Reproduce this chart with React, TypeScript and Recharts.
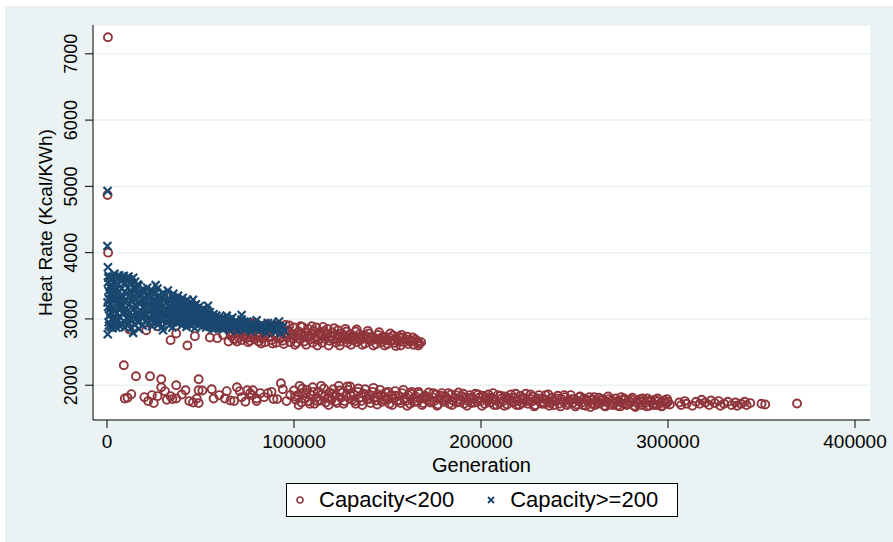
import { ScatterChart, Scatter, XAxis, YAxis, CartesianGrid } from "recharts";

const maroon = "#90353b";
const navy = "#1a476f";
const bg = "#eaf2f3";

// [generation in thousands, heat rate]
const smallCapOutliers: [number, number][] = [
  [0.5, 7250], [0.3, 4870], [0.6, 4000],
  [12, 2840], [21, 2830], [27, 2890], [34, 2680], [37, 2780], [43, 2600], [47, 2740], [55, 2720],
  [59, 2710], [65, 2660], [62, 2760], [68, 2700], [66, 2800],
];

const smallCapUpper: [number, number][] = [
  [66.5, 2740], [67, 2850], [68, 2690], [69, 2790], [70, 2900], [70.5, 2720], [71.5, 2830], [72, 2680],
  [73, 2760], [73.5, 2880], [74.5, 2710], [75, 2800], [76, 2920], [76.5, 2670], [77.5, 2760], [78, 2850],
  [79, 2700], [79.5, 2930], [80, 2790], [81, 2660], [81.5, 2740], [82, 2870], [83, 2700], [83.5, 2810],
  [84.5, 2650], [85, 2760], [86, 2900], [86.5, 2720], [87.5, 2830], [88, 2680], [89, 2780], [89.5, 2880],
  [90.5, 2640], [91, 2740], [92, 2850], [92.5, 2700], [93.5, 2800], [94, 2670], [95, 2760], [95.5, 2910],
  [96.5, 2720], [97, 2830], [98, 2650], [98.5, 2780], [99.5, 2700], [100, 2870], [101, 2740], [101.5, 2640],
  [102.5, 2810], [103, 2700], [104, 2760], [104.5, 2880], [105.5, 2660], [106, 2790], [107, 2720], [107.5, 2850],
  [108.5, 2690], [109, 2770], [110, 2640], [110.5, 2820], [111.5, 2730], [112, 2870], [113, 2680], [113.5, 2790],
  [114.5, 2740], [115, 2640], [116, 2810], [116.5, 2700], [117.5, 2770], [118, 2850], [119, 2670], [119.5, 2740],
  [120.5, 2800], [121, 2690], [122, 2760], [122.5, 2640], [123.5, 2830], [124, 2720], [125, 2660], [125.5, 2780],
  [126.5, 2700], [127, 2740], [128, 2810], [128.5, 2640], [129.5, 2720], [130, 2770], [131, 2680], [132, 2740],
  [133, 2810], [133.5, 2650], [134.5, 2710], [135, 2770], [136, 2690], [137, 2740], [138, 2630], [139, 2710],
  [140, 2780], [141, 2670], [142, 2730], [143, 2690], [144, 2620], [145, 2760], [146, 2700], [147, 2650],
  [148, 2730], [149, 2680], [150, 2620], [151, 2720], [152, 2670], [153, 2750], [154, 2640], [155, 2700],
  [156, 2660], [157, 2600], [158, 2720], [159, 2650], [160, 2690], [161, 2620], [163, 2670], [164, 2610],
  [166, 2660], [167, 2630],
  [67.5, 2780], [71, 2770], [74, 2830], [77, 2720], [80.5, 2730], [84, 2770], [87, 2740], [90, 2790],
  [93, 2730], [96, 2790], [99, 2760], [102, 2760], [105, 2730], [108, 2750], [111, 2700], [114, 2760],
  [117, 2730], [120, 2740], [123, 2700], [126, 2750], [129, 2690], [132, 2680], [135, 2720], [138, 2750],
  [141, 2720], [144, 2700], [147, 2720], [150, 2690], [153, 2680], [156, 2730], [162, 2660], [165, 2690],
  [67, 2930], [69.5, 2660], [72.5, 2940], [75.5, 2650], [78.5, 2940], [82.5, 2630], [85.5, 2920], [88.5, 2630],
  [91.5, 2910], [94.5, 2620], [97.5, 2900], [100.5, 2610], [103.5, 2890], [106.5, 2610], [109.5, 2890], [112.5, 2600],
  [115.5, 2880], [118.5, 2600], [121.5, 2860], [124.5, 2600], [127.5, 2850], [130.5, 2610], [133.5, 2840], [136.5, 2610],
  [139.5, 2820], [142.5, 2600], [145.5, 2800], [148.5, 2600], [151.5, 2780], [154.5, 2590], [157.5, 2760], [160.5, 2730],
  [163.5, 2720], [166.5, 2600], [168, 2650],
];

const smallCapLower: [number, number][] = [
  [9, 2300], [15.5, 2135], [23, 2135], [29, 2090], [49, 2090], [37, 2000], [42, 1925], [9.5, 1800],
  [13, 1865], [11, 1810], [20, 1820], [22, 1760], [25, 1730], [24, 1850], [27, 1835], [29, 1970],
  [31, 1910], [34, 1835], [37, 1800], [48, 1800], [49, 1925], [51, 1920], [49, 1730], [56, 1940],
  [57, 1800], [64, 1910], [63, 1800], [68, 1760], [69.5, 1970], [71, 1910], [75, 1925], [76.5, 1880],
  [78, 1925], [80, 1800], [82, 1880], [77.5, 1850], [80, 1760], [86, 1880], [89, 1790], [91, 1790],
  [93, 2030], [94, 1940], [96, 1760], [32, 1780], [35, 1790], [40, 1860], [44, 1760], [46, 1740],
  [60, 1850], [66, 1770], [72, 1820], [74, 1750], [84, 1820], [88, 1900], [98, 1850],
  [100, 1920], [101, 1780], [102, 1850], [103, 1990], [104, 1740], [105, 1880], [106, 1800], [107, 1930],
  [108, 1760], [109, 1850], [110, 1970], [111, 1720], [112, 1820], [113, 1900], [114, 1770], [115, 1860],
  [116, 1950], [117, 1740], [118, 1810], [119, 1890], [120, 1780], [121, 1940], [122, 1850], [123, 1730],
  [124, 1990], [125, 1810], [126, 1890], [127, 1760], [128, 1840], [129, 1930], [130, 1980], [131, 1780],
  [132, 1860], [133, 1720], [134, 1900], [135, 1810], [136, 1760], [137, 1870], [138, 1940], [139, 1790],
  [140, 1850], [141, 1730], [142, 1900], [143, 1810], [144, 1770], [145, 1860], [146, 1930], [147, 1750],
  [148, 1830], [149, 1890], [150, 1780], [151, 1720], [152, 1850], [153, 1800], [154, 1910], [155, 1760],
  [156, 1840], [157, 1730], [158, 1880], [159, 1800], [160, 1760], [161, 1850], [162, 1720], [163, 1900],
  [164, 1790], [165, 1830], [166, 1750], [167, 1870], [168, 1800], [169, 1730], [170, 1840], [171, 1780],
  [172, 1890], [173, 1740], [174, 1820], [175, 1760], [176, 1860], [177, 1710], [178, 1800], [179, 1880],
  [180, 1750], [181, 1830], [182, 1790], [183, 1720], [184, 1860], [185, 1770], [186, 1810], [187, 1740],
  [188, 1890], [189, 1780], [190, 1830], [191, 1720], [192, 1800], [193, 1760], [194, 1850], [195, 1730],
  [196, 1790], [197, 1870], [198, 1750], [199, 1810],
  [200, 1760], [201, 1840], [202, 1720], [203, 1790], [204, 1860], [205, 1740], [206, 1810], [207, 1700],
  [208, 1770], [209, 1850], [210, 1730], [211, 1800], [212, 1760], [213, 1830], [214, 1710], [215, 1780],
  [216, 1860], [217, 1740], [218, 1810], [219, 1700], [220, 1760], [221, 1840], [222, 1730], [223, 1790],
  [224, 1870], [225, 1720], [226, 1800], [227, 1750], [228, 1830], [229, 1700], [230, 1770], [231, 1850],
  [232, 1740], [233, 1800], [234, 1720], [235, 1780], [236, 1860], [237, 1730], [238, 1810], [239, 1700],
  [240, 1760], [241, 1840], [242, 1720], [243, 1790], [244, 1750], [245, 1820], [246, 1700], [247, 1770],
  [248, 1850], [249, 1730], [250, 1790], [251, 1710], [252, 1760], [253, 1830], [254, 1740], [255, 1800],
  [256, 1690], [257, 1760], [258, 1820], [259, 1720], [260, 1780], [261, 1700], [262, 1750], [263, 1810],
  [264, 1730], [265, 1790], [266, 1690], [267, 1750], [268, 1830], [269, 1710], [270, 1770], [271, 1730],
  [272, 1800], [273, 1690], [274, 1750], [275, 1820], [276, 1720], [277, 1780], [278, 1700], [279, 1760],
  [280, 1740], [281, 1810], [282, 1690], [283, 1750], [284, 1720], [285, 1790], [286, 1700], [287, 1760],
  [288, 1730], [289, 1800], [290, 1690], [291, 1750], [292, 1720], [293, 1780], [294, 1700], [295, 1760],
  [296, 1730], [297, 1690], [298, 1770], [299, 1720], [300, 1750],
  [100.5, 1830], [102.5, 1700], [104.5, 1950], [106.5, 1880], [108.5, 1720], [110.5, 1900], [112.5, 1760], [114.5, 1990],
  [116.5, 1830], [118.5, 1700], [120.5, 1870], [122.5, 1760], [124.5, 1920], [126.5, 1720], [128.5, 1980], [130.5, 1840],
  [132.5, 1760], [134.5, 1950], [136.5, 1700], [138.5, 1860], [140.5, 1790], [142.5, 1960], [144.5, 1710], [146.5, 1840],
  [148.5, 1780], [150.5, 1900], [152.5, 1700], [154.5, 1840], [156.5, 1770], [158.5, 1930], [160.5, 1690], [162.5, 1870],
  [164.5, 1750], [166.5, 1900], [168.5, 1700], [170.5, 1810], [172.5, 1760], [174.5, 1880], [176.5, 1690], [178.5, 1840],
  [180.5, 1780], [182.5, 1880], [184.5, 1700], [186.5, 1850], [188.5, 1750], [190.5, 1870], [192.5, 1690], [194.5, 1810],
  [196.5, 1740], [198.5, 1860], [200.5, 1690], [202.5, 1820], [204.5, 1780], [206.5, 1880], [208.5, 1700], [210.5, 1840],
  [212.5, 1690], [214.5, 1810], [216.5, 1750], [218.5, 1870], [220.5, 1700], [222.5, 1810], [224.5, 1760], [226.5, 1860],
  [228.5, 1680], [230.5, 1800], [232.5, 1720], [234.5, 1850], [236.5, 1690], [238.5, 1760], [240.5, 1800], [242.5, 1680],
  [244.5, 1850], [246.5, 1730], [248.5, 1790], [250.5, 1680], [252.5, 1820], [254.5, 1700], [256.5, 1780], [258.5, 1670],
  [260.5, 1820], [262.5, 1720], [264.5, 1770], [266.5, 1680], [268.5, 1790], [270.5, 1700], [272.5, 1750], [274.5, 1680],
  [276.5, 1800], [278.5, 1720], [280.5, 1780], [282.5, 1670], [284.5, 1760], [286.5, 1800], [288.5, 1680], [290.5, 1770],
  [292.5, 1700], [294.5, 1800], [296.5, 1680], [298.5, 1740], [299.5, 1790], [301, 1710],
  [306, 1740], [307, 1700], [309, 1760], [310, 1720], [313, 1690], [315, 1750], [317, 1720], [318, 1780],
  [320, 1740], [322, 1700], [323, 1770], [325, 1730], [327, 1760], [328, 1690], [330, 1720], [332, 1750],
  [334, 1700], [336, 1740], [337, 1690], [339, 1720], [341, 1750], [342, 1700], [344, 1730], [350, 1720],
  [352, 1710], [369, 1725],
];

const largeCap: [number, number][] = [
  [0.3, 4930], [0.2, 4100], [0.5, 3780], [0.4, 2770], [14, 2790], [30, 2830], [26, 3510], [46, 3290],
  [54, 3200], [72, 3060], [92, 2960], [86, 2940], [3, 3640], [8, 3620], [12, 3590],
  [1, 3650], [4, 3680], [6.5, 3660], [9, 3650], [11.5, 3640], [14, 3620], [2, 2880], [5, 2870],
  [9.5, 2870], [13, 2860], [17, 2850],
  [0.5, 3550], [0.8, 3420], [1, 3300], [0.6, 3180], [1.2, 3050], [0.9, 2950], [1.5, 3480], [2, 3350],
  [2.2, 3220], [1.8, 3100], [2.5, 2990], [2.8, 3600], [3.2, 3450], [3.5, 3310], [3.8, 3150], [4, 3020],
  [4.2, 2920], [4.5, 3560], [4.8, 3380], [5, 3240], [5.2, 3090], [5.5, 2960], [6, 3520], [6.2, 3400],
  [6.5, 3280], [6.8, 3150], [7, 3030], [7.3, 2930], [7.6, 3580], [8, 3460], [8.2, 3330], [8.5, 3200],
  [8.8, 3070], [9, 2970], [9.3, 3540], [9.6, 3410], [10, 3290], [10.2, 3160], [10.5, 3010], [10.8, 2900],
  [11, 3590], [11.3, 3470], [11.6, 3350], [12, 3230], [12.3, 3100], [12.6, 2990], [13, 3520], [13.3, 3390],
  [13.6, 3270], [14, 3140], [14.3, 3040], [14.6, 2920], [15, 3560], [15.3, 3430], [15.6, 3300], [16, 3180],
  [16.3, 3060], [16.6, 2950], [17, 3500], [17.4, 3370], [17.8, 3240], [18.2, 3120], [18.6, 3010], [19, 2900],
  [19.4, 3450], [19.8, 3320], [20.2, 3200], [20.6, 3080], [21, 2970], [21.5, 3470], [22, 3350], [22.5, 3230],
  [23, 3110], [23.5, 2990], [24, 2890], [24.5, 3420], [25, 3300], [25.5, 3180], [26, 3060], [26.5, 2950],
  [27, 3460], [27.5, 3340], [28, 3220], [28.5, 3100], [29, 2980], [29.5, 2880], [30, 3400], [30.5, 3280],
  [31, 3160], [31.5, 3050], [32, 2940], [32.5, 3430], [33, 3310], [33.5, 3190], [34, 3080], [34.5, 2970],
  [35, 2870], [35.5, 3380], [36, 3260], [36.5, 3140], [37, 3030], [37.5, 2930], [38, 3350], [38.5, 3230],
  [39, 3110], [39.5, 3000], [40, 2900], [40.5, 3320], [41, 3200], [41.5, 3090], [42, 2980], [42.5, 2880],
  [43, 3290], [43.5, 3170], [44, 3060], [44.5, 2960], [45, 3250], [45.5, 3140], [46, 3030], [46.5, 2930],
  [47, 2860], [47.5, 3220], [48, 3110], [48.5, 3010], [49, 2910], [49.5, 3190], [50, 3080], [50.5, 2980],
  [51, 2890], [51.5, 3160], [52, 3060], [52.5, 2960], [53, 2870], [53.5, 3130], [54, 3030], [54.5, 2940],
  [55, 3100], [55.5, 3000], [56, 2910], [56.5, 2850], [57, 3070], [57.5, 2980], [58, 2890], [58.5, 3050],
  [59, 2960], [59.5, 2870], [60, 3030], [60.5, 2940], [61, 2860], [61.5, 3010], [62, 2920], [62.5, 2850],
  [63, 2990], [63.5, 2900], [64, 3050], [64.5, 2960], [65, 2880], [65.5, 2830], [66, 2980], [66.5, 2900],
  [67, 3020], [67.5, 2940], [68, 2860], [68.5, 2970], [69, 2890], [69.5, 2820], [70, 2950], [71, 2880],
  [72, 2990], [73, 2910], [74, 2840], [75, 2960], [76, 2880], [77, 2810], [78, 2940], [79, 2860],
  [80, 2980], [81, 2900], [82, 2830], [83, 2920], [84, 2850], [85, 2790], [86, 2900], [87, 2830],
  [88, 2940], [89, 2870], [90, 2800], [91, 2900], [92, 2840], [93, 2780], [94, 2880], [95, 2820],
  [0.3, 3250], [0.7, 3620], [1.1, 2900], [1.4, 3150], [1.7, 3380], [2.3, 3520], [2.6, 3080], [3, 2860],
  [3.4, 3270], [3.7, 3540], [4.3, 3120], [4.6, 2990], [5.4, 3450], [5.8, 3320], [6.4, 3640], [6.9, 2890],
  [7.4, 3200], [7.8, 3360], [8.4, 2920], [9.1, 3110], [9.5, 3250], [9.8, 3600], [10.4, 3380], [10.9, 3120],
  [11.4, 3020], [11.8, 2940], [12.4, 3420], [12.8, 3560], [13.4, 3050], [13.8, 3320], [14.4, 3480], [14.8, 3210],
  [15.4, 3000], [15.8, 3380], [16.4, 3520], [16.8, 3100], [17.6, 2970], [18, 3420], [18.4, 3280], [19.2, 3170],
  [19.6, 3050], [20, 3390], [20.8, 3260], [21.3, 3140], [21.8, 2920], [22.3, 3020], [22.8, 3410], [23.3, 3270],
  [23.8, 3160], [24.3, 3050], [24.8, 2950], [25.3, 3370], [25.8, 3240], [26.3, 3130], [26.8, 3010], [27.3, 2910],
  [27.8, 3280], [28.3, 3160], [28.8, 3040], [29.3, 3330], [29.8, 3200], [30.3, 3090], [30.8, 2990], [31.3, 3350],
  [31.8, 3240], [32.3, 3110], [32.8, 3000], [33.3, 2900], [33.8, 3260], [34.3, 3130], [34.8, 3020], [35.3, 3310],
  [35.8, 3200], [36.3, 3080], [36.8, 2960], [37.3, 3290], [37.8, 3170], [38.3, 3060], [38.8, 2950], [39.3, 3270],
  [39.8, 3150], [40.3, 3040], [40.8, 2940], [41.3, 3250], [41.8, 3130], [42.3, 3020], [42.8, 2920], [43.3, 3220],
  [43.8, 3100], [44.3, 3000], [44.8, 2900], [45.3, 3190], [45.8, 3080], [46.3, 2980], [46.8, 3200], [47.3, 3050],
  [47.8, 2950], [48.3, 3150], [48.8, 3050], [49.3, 2950], [49.8, 3120], [50.3, 3020], [50.8, 2930], [51.3, 3100],
  [51.8, 3000], [52.3, 2910], [52.8, 3080], [53.3, 2980], [53.8, 2900], [54.3, 3060], [54.8, 2970], [55.3, 2880],
  [55.8, 3040], [56.3, 2950], [56.8, 3010], [57.3, 2920], [57.8, 2860], [58.3, 2990], [58.8, 2910], [59.3, 3010],
  [59.8, 2920], [60.3, 2990], [61.3, 2900], [62.3, 2970], [63.3, 2940], [64.3, 2870], [65.3, 2990], [66.3, 2930],
  [67.3, 2880], [68.3, 2920], [69.3, 2950], [70.5, 2900], [72.5, 2860], [73.5, 2960], [75.5, 2920], [76.5, 2850],
  [78.5, 2900], [80.5, 2860], [82.5, 2920], [84.5, 2890], [86.5, 2860], [88.5, 2900], [90.5, 2860], [92.5, 2890],
];

const xTicks = [0, 100000, 200000, 300000, 400000];
const yTicks = [2000, 3000, 4000, 5000, 6000, 7000];

const toPoints = (arr: [number, number][]) => arr.map(([g, h]) => ({ x: g * 1000, y: h }));
const smallData = toPoints([...smallCapOutliers, ...smallCapUpper, ...smallCapLower]);
const largeData = toPoints(largeCap);

const Circle = (p: any) => <circle cx={p.cx} cy={p.cy} r={4} fill="none" stroke={maroon} strokeWidth={1.9} />;
const Cross = (p: any) => (
  <path
    d={`M${p.cx - 4},${p.cy - 4}L${p.cx + 4},${p.cy + 4}M${p.cx - 4},${p.cy + 4}L${p.cx + 4},${p.cy - 4}`}
    stroke={navy}
    strokeWidth={2.2}
  />
);

function YTick({ x, y, payload }: any) {
  const bx = x - 6;
  return (
    <text x={bx} y={y} transform={`rotate(-90, ${bx}, ${y})`} textAnchor="middle" fontSize={18} fill="#000">
      {payload.value}
    </text>
  );
}

export default function App() {
  return (
    <div style={{ position: "absolute", left: 0, top: 0, width: 893, height: 542, background: "#fff", fontFamily: "'Liberation Sans', Arial, sans-serif" }}>
      <div style={{ position: "absolute", left: 5, top: 6, width: 888, height: 536, background: bg }} />
      <div style={{ position: "absolute", left: 0, top: 0 }}>
        <ScatterChart width={893} height={542} margin={{ top: 25, right: 23, bottom: 70, left: 33 }}>
          <CartesianGrid vertical={false} stroke={bg} strokeWidth={1.5} fill="#fff" />
          <XAxis
            type="number"
            dataKey="x"
            domain={[-7487, 408021]}
            ticks={xTicks}
            allowDataOverflow
            height={52}
            tickSize={8}
            tickMargin={7}
            stroke="#000"
            tick={{ fill: "#000", fontSize: 19 }}
            label={{ value: "Generation", position: "insideBottom", offset: 0, fill: "#000", fontSize: 20 }}
          />
          <YAxis
            type="number"
            dataKey="y"
            domain={[1475, 7435]}
            ticks={yTicks}
            allowDataOverflow
            width={60}
            tickSize={8}
            stroke="#000"
            tick={<YTick />}
            label={{ value: "Heat Rate (Kcal/KWh)", angle: -90, position: "insideLeft", offset: 12, fill: "#000", fontSize: 19, style: { textAnchor: "middle" } }}
          />
          <Scatter data={smallData} shape={Circle} isAnimationActive={false} />
          <Scatter data={largeData} shape={Cross} isAnimationActive={false} />
        </ScatterChart>
      </div>
      <div
        style={{
          position: "absolute", left: 286, top: 483, width: 390, height: 32, background: "#fff",
          border: "1px solid #000", display: "flex", alignItems: "center", fontSize: 22, color: "#000",
        }}
      >
        <svg width={10} height={10} style={{ marginLeft: 8 }}>
          <circle cx={5} cy={5} r={3} fill="none" stroke={maroon} strokeWidth={1.5} />
        </svg>
        <span style={{ marginLeft: 14 }}>Capacity&lt;200</span>
        <svg width={10} height={10} style={{ marginLeft: 32 }}>
          <path d="M2,2L8,8M2,8L8,2" stroke={navy} strokeWidth={1.8} />
        </svg>
        <span style={{ marginLeft: 14 }}>Capacity&gt;=200</span>
      </div>
    </div>
  );
}
